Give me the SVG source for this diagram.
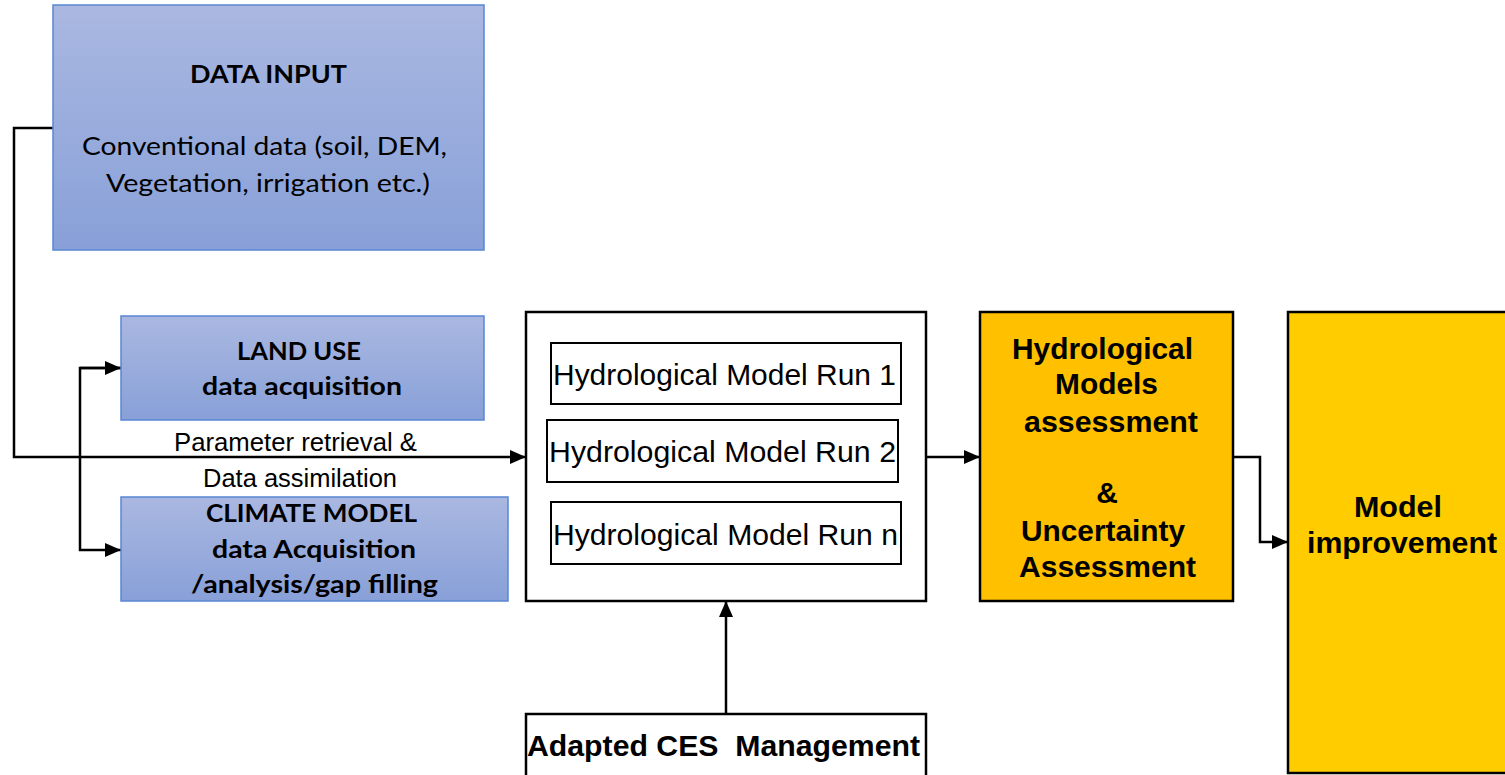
<svg xmlns="http://www.w3.org/2000/svg" width="1505" height="775" viewBox="0 0 1505 775">
<defs>
<linearGradient id="blue" x1="0" y1="0" x2="0" y2="1">
<stop offset="0" stop-color="#AAB8E1"/>
<stop offset="1" stop-color="#88A0D8"/>
</linearGradient>
<marker id="arr" viewBox="0 0 16 14" refX="16" refY="7" markerWidth="16" markerHeight="14" markerUnits="userSpaceOnUse" orient="auto">
<path d="M0,0 L16,7 L0,14 Z" fill="#000"/>
</marker>
<style>
.blue{fill:url(#blue);stroke:#5A86D4;stroke-width:1.5}
.box{fill:#fff;stroke:#000;stroke-width:2.5}
.inner{fill:#fff;stroke:#000;stroke-width:2}
.org{fill:#FFC000;stroke:#000;stroke-width:2.5}
.yel{fill:#FFCC00;stroke:#000;stroke-width:2.5}
.cal{font-family:Lato,"Open Sans",sans-serif;font-size:25px;fill:#000;text-anchor:middle}
.calb{font-family:Lato,"Open Sans",sans-serif;font-size:25px;font-weight:bold;fill:#000;text-anchor:middle}
.ar{font-family:"Liberation Sans",Arial,sans-serif;font-size:30px;fill:#000;text-anchor:middle}
.arb{font-family:"Liberation Sans",Arial,sans-serif;font-size:30px;font-weight:bold;fill:#000;text-anchor:middle}
.lbl{font-family:"Liberation Sans",Arial,sans-serif;font-size:25.5px;fill:#000;text-anchor:middle}
.conn{fill:none;stroke:#000;stroke-width:2.5}
.pre{white-space:pre}
</style>
</defs>
<rect width="1505" height="775" fill="#fff"/>
<g id="connectors">
<polyline class="conn" points="53,128 14,128 14,457 526,457" marker-end="url(#arr)"/>
<polyline class="conn" points="121,368 80,368 80,550 121,550" marker-end="url(#arr)"/>
<line class="conn" x1="80" y1="368" x2="121" y2="368" marker-end="url(#arr)"/>
<line class="conn" x1="926" y1="457" x2="980" y2="457" marker-end="url(#arr)"/>
<polyline class="conn" points="1233,457 1260,457 1260,542 1288,542" marker-end="url(#arr)"/>
<line class="conn" x1="726" y1="714" x2="726" y2="601" marker-end="url(#arr)"/>
<text class="lbl" x="295.5" y="451" textLength="243" lengthAdjust="spacingAndGlyphs">Parameter retrieval &amp;</text>
<text class="lbl" x="300" y="487" textLength="194" lengthAdjust="spacingAndGlyphs">Data assimilation</text>
</g>
<g id="data-input">
<rect class="blue" x="53" y="5" width="431" height="245"/>
<text class="calb" x="268.5" y="83" textLength="157" lengthAdjust="spacingAndGlyphs">DATA INPUT</text>
<text class="cal" x="264.5" y="155" textLength="365" lengthAdjust="spacingAndGlyphs">Conventional data (soil, DEM,</text>
<text class="cal" x="268" y="192" textLength="324" lengthAdjust="spacingAndGlyphs">Vegetation, irrigation etc.)</text>
</g>
<g id="land-use">
<rect class="blue" x="121" y="316" width="363" height="104"/>
<text class="calb" x="299" y="360" textLength="124" lengthAdjust="spacingAndGlyphs">LAND USE</text>
<text class="calb" x="302" y="395" textLength="200" lengthAdjust="spacingAndGlyphs">data acquisition</text>
</g>
<g id="climate-model">
<rect class="blue" x="121" y="497" width="387" height="104"/>
<text class="calb" x="311.5" y="522" textLength="211" lengthAdjust="spacingAndGlyphs">CLIMATE MODEL</text>
<text class="calb" x="314" y="558" textLength="204" lengthAdjust="spacingAndGlyphs">data Acquisition</text>
<text class="calb" x="314.5" y="593" textLength="247" lengthAdjust="spacingAndGlyphs">/analysis/gap filling</text>
</g>
<g id="model-runs">
<rect class="box" x="526" y="312" width="400" height="289"/>
<g id="run-1">
<rect class="inner" x="551" y="343" width="350" height="61"/>
<text class="ar" x="724.5" y="385" textLength="343" lengthAdjust="spacingAndGlyphs">Hydrological Model Run 1</text>
</g>
<g id="run-2">
<rect class="inner" x="547" y="420" width="351" height="62"/>
<text class="ar" x="722.5" y="462" textLength="347" lengthAdjust="spacingAndGlyphs">Hydrological Model Run 2</text>
</g>
<g id="run-n">
<rect class="inner" x="551" y="502" width="350" height="62"/>
<text class="ar" x="725.5" y="545" textLength="345" lengthAdjust="spacingAndGlyphs">Hydrological Model Run n</text>
</g>
</g>
<g id="assessment">
<rect class="org" x="980" y="312" width="253" height="289"/>
<text class="arb" x="1102.5" y="359" textLength="181" lengthAdjust="spacingAndGlyphs">Hydrological</text>
<text class="arb" x="1106.5" y="394" textLength="103" lengthAdjust="spacingAndGlyphs">Models</text>
<text class="arb" x="1111" y="432" textLength="174" lengthAdjust="spacingAndGlyphs">assessment</text>
<text class="arb" x="1107" y="503">&amp;</text>
<text class="arb" x="1103" y="541" textLength="164" lengthAdjust="spacingAndGlyphs">Uncertainty</text>
<text class="arb" x="1107.5" y="577" textLength="177" lengthAdjust="spacingAndGlyphs">Assessment</text>
</g>
<g id="model-improvement">
<rect class="yel" x="1288" y="312" width="230" height="461"/>
<text class="arb" x="1398" y="517" textLength="88" lengthAdjust="spacingAndGlyphs">Model</text>
<text class="arb" x="1402" y="553" textLength="190" lengthAdjust="spacingAndGlyphs">improvement</text>
</g>
<g id="adapted-ces">
<rect class="box" x="526" y="714" width="400" height="70"/>
<text class="arb pre" x="723.5" y="756" textLength="393" lengthAdjust="spacingAndGlyphs">Adapted CES  Management</text>
</g>
</svg>
